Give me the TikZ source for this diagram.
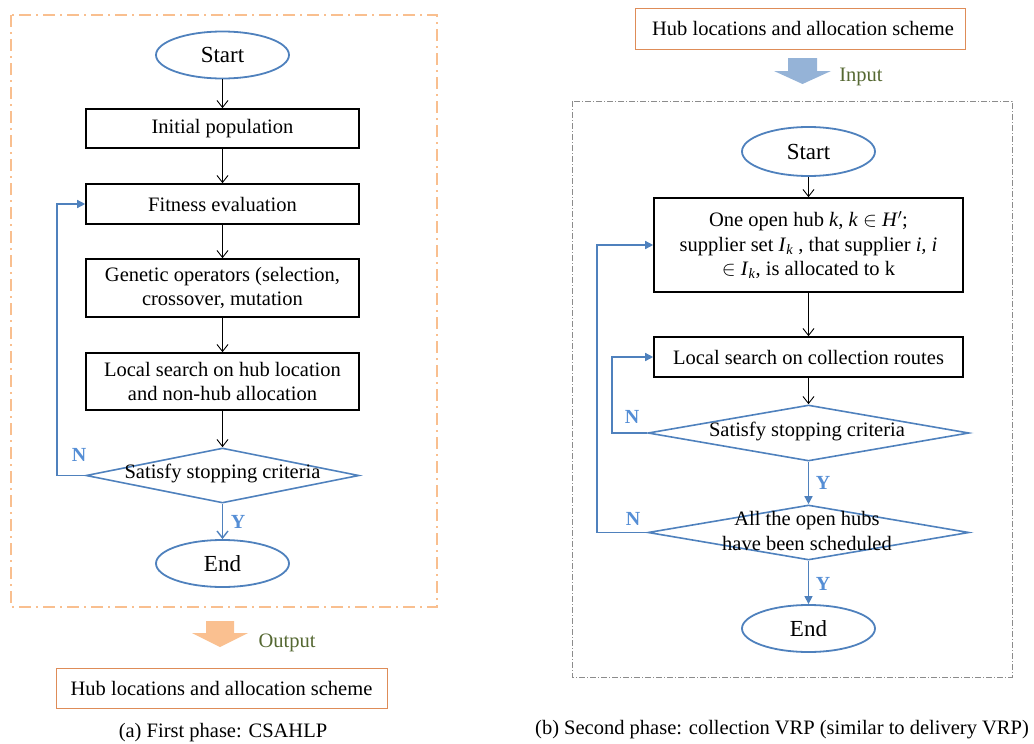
\documentclass[tikz,border=0pt]{standalone}
\usepackage{fontspec}
\setmainfont{Liberation Serif}
\usetikzlibrary{shapes.geometric,arrows.meta,calc}
\definecolor{blueline}{RGB}{79,129,189}
\definecolor{labblue}{RGB}{85,142,213}
\definecolor{frameor}{RGB}{249,191,143}
\definecolor{hubor}{RGB}{222,140,88}
\definecolor{outfill}{RGB}{250,192,144}
\definecolor{infill}{RGB}{149,179,215}
\definecolor{olive}{RGB}{85,104,50}
\definecolor{framegray}{RGB}{140,140,140}
\begin{document}
\begin{tikzpicture}[x=1pt,y=-1pt,
  box/.style={draw=black, line width=1.6pt, inner sep=0pt, align=center,
    font=\fontsize{20.5}{24.6}\selectfont},
  term/.style={ellipse, draw=blueline, line width=1.8pt, inner sep=0pt,
    minimum width=133pt, minimum height=47pt, font=\fontsize{23}{27}\selectfont},
  dia/.style={diamond, draw=blueline, line width=1.6pt, inner sep=0pt},
  txt/.style={align=center, inner sep=0pt, font=\fontsize{20.5}{24.6}\selectfont},
  blk/.style={-{Straight Barb[length=7pt,width=11pt]}, line width=0.9pt},
  bluo/.style={draw=blueline, line width=1.4pt, -{Straight Barb[length=7pt,width=11pt]}},
  blu/.style={draw=blueline, line width=1.4pt, -{Triangle[length=8pt,width=8pt]}},
  lab/.style={text=labblue, inner sep=0pt, font=\bfseries\fontsize{20}{24}\selectfont},
  hub/.style={draw=hubor, line width=1pt, inner sep=0pt, minimum width=331pt,
    minimum height=40pt, font=\fontsize{20.5}{24.6}\selectfont}
]
\useasboundingbox (0,0) rectangle (1034,744);

% ---------------- Left panel ----------------
\draw[frameor, line width=2pt, dash pattern=on 12pt off 5pt on 2pt off 5pt]
  (11,15) rectangle (437,607);

\node[term] (sA) at (222.5,55) {Start};
\node[box, minimum width=273pt, minimum height=39pt] (init) at (222.5,128.5) {Initial population};
\node[box, minimum width=273pt, minimum height=40pt] (fit) at (222.5,204) {Fitness evaluation};
\node[box, minimum width=273pt, minimum height=58pt] (gen) at (222.5,288) {Genetic operators (selection,\\crossover, mutation};
\node[box, minimum width=273pt, minimum height=57pt] (loc) at (222.5,381.5) {Local search on hub location\\and non-hub allocation};
\node[dia, minimum width=273pt, minimum height=55pt] (dec) at (222.5,475.5) {};
\node[txt] (decT) at (222.5,473) {Satisfy stopping criteria};
\node[term] (eA) at (222.5,563.5) {End};

\draw[blk] (sA.south) -- (init.north);
\draw[blk] (init.south) -- (fit.north);
\draw[blk] (fit.south) -- (gen.north);
\draw[blk] (gen.south) -- (loc.north);
\draw[blk] (loc.south) -- (dec.north);
\draw[bluo] (dec.south) -- (eA.north);
\coordinate (lA) at (57,0);
\draw[blu] (dec.west) -- (dec.west -| lA) |- (fit.west);
\node[lab] (nA) at (79,455) {N};
\node[lab] (yA) at (238,522) {Y};

\draw[draw=none, fill=outfill] (206,621) -- (234,621) -- (234,633) -- (248,633)
  -- (220,647) -- (192,633) -- (206,633) -- cycle;
\node[txt, text=olive] (outT) at (287,643) {Output};
\node[hub] (hubA) at (221.5,688) {Hub locations and allocation scheme};
\node[txt] (capA) at (223,733) {(a) First phase: CSAHLP};

% ---------------- Right panel ----------------
\node[hub, minimum width=330pt, minimum height=41pt] (hubB) at (800,28.5) {\hspace*{6pt}Hub locations and allocation scheme};
\draw[draw=none, fill=infill] (788,58) -- (817,58) -- (817,71) -- (831,71)
  -- (802.5,84) -- (774,71) -- (788,71) -- cycle;
\node[txt, text=olive] (inT) at (861,77) {Input};

\draw[framegray, line width=0.8pt, dash pattern=on 6pt off 2pt on 1pt off 2pt]
  (572,101) rectangle (1012,677);

\node[term, minimum height=49pt] (sB) at (808.5,151.5) {Start};
\node[box, minimum width=309pt, minimum height=94pt] (b1) at (808.5,245)
  {One open hub \textit{k}, \textit{k} $\in$ \textit{H}$'$;\\
   supplier set \textit{I}\textsubscript{\textit{k}} , that supplier \textit{i, i}\\
   $\in$ \textit{I}\textsubscript{\textit{k}}, is allocated to k};
\node[box, minimum width=309pt, minimum height=40pt] (b2) at (808.5,357) {Local search on collection routes};
\node[dia, minimum width=321pt, minimum height=56pt] (d1) at (808.5,433) {};
\node[txt] (d1T) at (807,431) {Satisfy stopping criteria};
\node[dia, minimum width=321pt, minimum height=55pt] (d2) at (808.5,532.5) {};
\node[txt] (d2T) at (807,531) {All the open hubs\\have been scheduled};
\node[term] (eB) at (808.5,628.5) {End};

\draw[blk] (sB.south) -- (b1.north);
\draw[blk] (b1.south) -- (b2.north);
\draw[blk] (b2.south) -- (d1.north);
\draw[blu] (d1.south) -- (d2.north);
\draw[blu] (d2.south) -- (eB.north);
\coordinate (lB1) at (612,0);
\coordinate (lB2) at (597,0);
\draw[blu] (d1.west) -- (d1.west -| lB1) |- (b2.west);
\draw[blu] (d2.west) -- (d2.west -| lB2) |- (b1.west);
\node[lab] (nB1) at (632,417) {N};
\node[lab] (yB1) at (823,483) {Y};
\node[lab] (nB2) at (633,519) {N};
\node[lab] (yB2) at (823,584) {Y};

\node[txt] (capB) at (782,730) {(b) Second phase: collection VRP (similar to delivery VRP)};
\end{tikzpicture}
\end{document}
